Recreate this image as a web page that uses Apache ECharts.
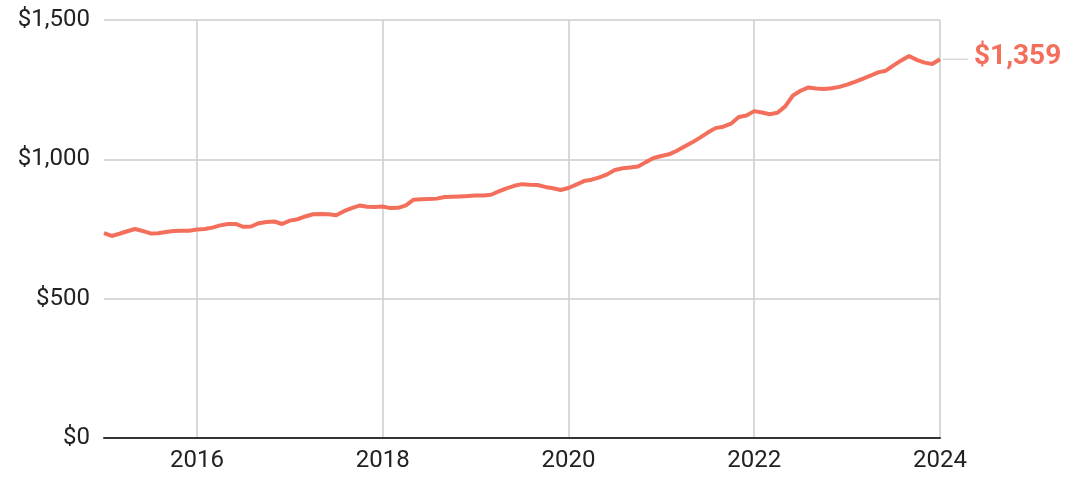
<!DOCTYPE html>
<html>
<head>
<meta charset="utf-8">
<script src="https://cdn.jsdelivr.net/npm/echarts@6/dist/echarts.min.js"></script>
<style>
  html, body { margin: 0; padding: 0; background: #ffffff; }
  #chart { width: 1074px; height: 477px; }
</style>
</head>
<body>
<div id="chart"></div>
<script>
// Monthly values, one array per year (January to December)
const v2015 = [735, 725, 733, 742, 750, 743, 734, 735, 739, 743, 744, 744];
const v2016 = [748, 750, 755, 763, 768, 768, 758, 759, 771, 775, 777, 768];
const v2017 = [780, 785, 795, 803, 804, 803, 799, 814, 825, 834, 830, 829];
const v2018 = [831, 825, 826, 835, 855, 857, 858, 859, 865, 866, 867, 868];
const v2019 = [870, 870, 873, 885, 896, 905, 911, 909, 908, 901, 896, 890];
const v2020 = [897, 909, 922, 927, 935, 946, 962, 968, 971, 974, 990, 1005];
const v2021 = [1012, 1018, 1031, 1046, 1061, 1078, 1096, 1112, 1117, 1128, 1152, 1157];
const v2022 = [1173, 1168, 1162, 1167, 1190, 1229, 1246, 1258, 1254, 1252, 1255, 1260];
const v2023 = [1268, 1278, 1289, 1300, 1312, 1318, 1337, 1355, 1371, 1357, 1347, 1342];
const v2024 = [1359];

const years = [2015, 2016, 2017, 2018, 2019, 2020, 2021, 2022, 2023, 2024];
const yearly = [v2015, v2016, v2017, v2018, v2019, v2020, v2021, v2022, v2023, v2024];

// Month categories "YYYY-MM" and the matching values
const months = [];
const values = [];
yearly.forEach((arr, i) => {
  arr.forEach((v, m) => {
    months.push(years[i] + '-' + String(m + 1).padStart(2, '0'));
    values.push(v);
  });
});

// Ticks and grid lines every second January, from 2016
const isEvenJanuary = (idx, cat) => {
  const [y, m] = cat.split('-');
  return m === '01' && Number(y) % 2 === 0;
};

const money = v => '$' + Number(v).toLocaleString('en-US');
const lineColor = '#f36f5c';

const chart = echarts.init(document.getElementById('chart'), null, { renderer: 'canvas' });
chart.setOption({
  animation: false,
  backgroundColor: '#ffffff',
  grid: { left: 104, right: 134, top: 20, bottom: 39, containLabel: false },
  xAxis: {
    type: 'category',
    data: months,
    boundaryGap: false,
    axisLine: { show: true, lineStyle: { color: '#333333', width: 2 } },
    axisTick: { show: false },
    axisLabel: {
      interval: isEvenJanuary,
      formatter: c => c.split('-')[0],
      color: '#222222',
      fontFamily: 'Roboto',
      fontSize: 24,
      margin: 11
    },
    splitLine: { show: true, interval: isEvenJanuary, lineStyle: { color: '#cccccc', width: 1.5 } }
  },
  yAxis: {
    type: 'value',
    min: 0,
    max: 1500,
    interval: 500,
    axisLine: { show: false },
    axisTick: { show: false },
    axisLabel: {
      formatter: money,
      color: '#222222',
      fontFamily: 'Roboto',
      fontSize: 24,
      margin: 14
    },
    splitLine: { show: true, lineStyle: { color: '#cccccc', width: 1.5 } }
  },
  series: [{
    type: 'line',
    data: values,
    showSymbol: false,
    symbol: 'none',
    smooth: false,
    lineStyle: { color: lineColor, width: 4 },
    endLabel: {
      show: true,
      distance: 3,
      formatter: p => '{lead|}{gap|}{val|' + money(p.value) + '}',
      rich: {
        lead: { width: 25, height: 1.5, backgroundColor: '#d6d6d6', verticalAlign: 'middle' },
        gap: { width: 6 },
        val: { color: lineColor, fontFamily: 'Roboto', fontWeight: 'bold', fontSize: 28, verticalAlign: 'middle', padding: [0, 0, 4, 0] }
      }
    }
  }]
});
</script>
</body>
</html>
